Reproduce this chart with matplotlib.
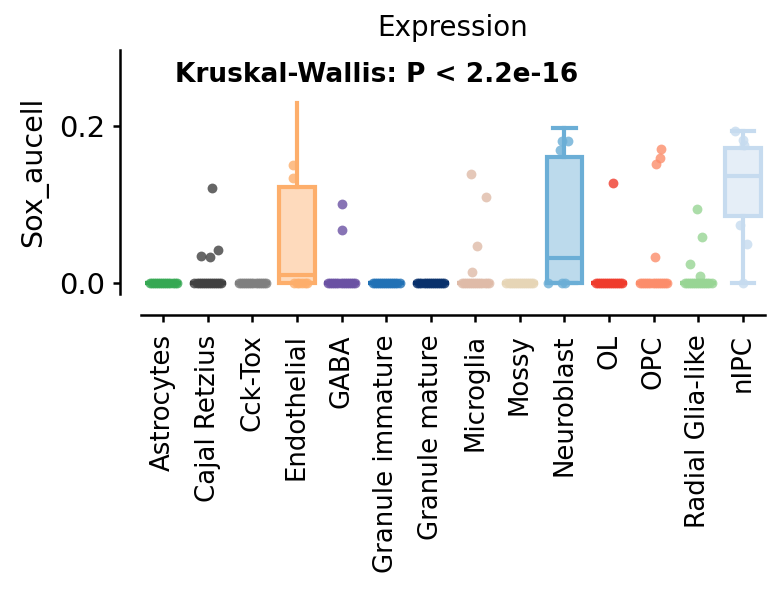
import numpy as np
import matplotlib.pyplot as plt
from matplotlib.colors import to_rgba

cell_types = ["Astrocytes", "Cajal Retzius", "Cck-Tox", "Endothelial", "GABA",
              "Granule immature", "Granule mature", "Microglia", "Mossy",
              "Neuroblast", "OL", "OPC", "Radial Glia-like", "nIPC"]

colors = ["#35a853", "#404040", "#7f7f7f", "#fdae6b", "#6a51a3",
          "#2171b5", "#08306b", "#dfbba8", "#e6d5b6",
          "#6baed6", "#ef3b2c", "#fc8d6b", "#98d594", "#c6dbef"]

# box stats
q1 = [0, 0, 0, 0.000, 0, 0, 0, 0, 0, 0.000, 0, 0, 0, 0.085]
med = [0, 0, 0, 0.011, 0, 0, 0, 0, 0, 0.032, 0, 0, 0, 0.136]
q3 = [0, 0, 0, 0.122, 0, 0, 0, 0, 0, 0.160, 0, 0, 0, 0.172]
whislo = [0, 0, 0, 0.000, 0, 0, 0, 0, 0, 0.000, 0, 0, 0, 0.000]
whishi = [0, 0, 0, 0.229, 0, 0, 0, 0, 0, 0.198, 0, 0, 0, 0.193]
cap_w = [0.5, 0.5, 0.5, 0.0, 0.5, 0.5, 0.5, 0.5, 0.5, 0.5, 0.5, 0.5, 0.5, 0.5]

# non-zero cells (value, jitter offset) per group
pt_values = [
    [],
    [0.121, 0.043, 0.035, 0.033],
    [],
    [0.150, 0.134],
    [0.101, 0.068],
    [],
    [],
    [0.139, 0.110, 0.047, 0.015],
    [],
    [0.181, 0.181, 0.170],
    [0.127],
    [0.171, 0.159, 0.152, 0.033],
    [0.095, 0.059, 0.025, 0.009],
    [0.193, 0.182, 0.176, 0.074, 0.050],
]
pt_jitter = [
    [],
    [0.10, 0.22, -0.15, 0.04],
    [],
    [-0.10, -0.10],
    [0.01, 0.01],
    [],
    [],
    [-0.10, 0.23, 0.04, -0.08],
    [],
    [-0.05, 0.09, -0.09],
    [0.09],
    [0.17, 0.15, 0.06, 0.04],
    [-0.03, 0.08, -0.19, 0.04],
    [-0.17, 0.01, 0.03, -0.06, 0.10],
]
# cells sitting at zero: count and jitter span per group
zero_n = [14, 14, 14, 6, 14, 14, 14, 14, 14, 3, 14, 14, 14, 1]
zero_span = [0.3, 0.3, 0.3, 0.15, 0.3, 0.3, 0.3, 0.3, 0.3, 0.3, 0.3, 0.3, 0.3, 0.0]

fig = plt.figure(figsize=(7.81, 5.91), dpi=100)
ax = fig.add_axes([141 / 781, 1 - 294 / 591, 624 / 781, 244 / 591])

pos = np.arange(len(cell_types))
stats = []
for i, name in enumerate(cell_types):
    stats.append({"label": name, "med": med[i], "q1": q1[i], "q3": q3[i],
                  "whislo": whislo[i], "whishi": whishi[i], "fliers": []})

bp = ax.bxp(stats, positions=pos, widths=0.8, capwidths=cap_w,
            patch_artist=True, showfliers=False)
for i, c in enumerate(colors):
    bp["boxes"][i].set_facecolor(to_rgba(c, 0.45))
    bp["boxes"][i].set_edgecolor(c)
    bp["boxes"][i].set_linewidth(3)
    bp["medians"][i].set_color(c)
    bp["medians"][i].set_linewidth(3)
    for k in (2 * i, 2 * i + 1):
        bp["whiskers"][k].set_color(c)
        bp["whiskers"][k].set_linewidth(3)
        bp["caps"][k].set_color(c)
        bp["caps"][k].set_linewidth(3)

for i, c in enumerate(colors):
    if zero_n[i] > 1:
        zx = np.linspace(-zero_span[i], zero_span[i], zero_n[i])
        if i == 3:
            zx = zx + 0.08
        if i == 9:
            zx = np.array([-0.36, -0.05, 0.02])
    else:
        zx = np.zeros(zero_n[i])
    ax.scatter(pos[i] + zx, np.zeros(len(zx)), s=50, color=c, alpha=0.8,
               linewidths=0, zorder=3)
    if pt_values[i]:
        ax.scatter(pos[i] + np.array(pt_jitter[i]), pt_values[i], s=50,
                   color=c, alpha=0.8, linewidths=0, zorder=3)

ax.set_xlim(-0.5, 13.5)
ax.set_ylim(-0.0135, 0.2965)
ax.set_yticks([0.0, 0.2])
ax.set_yticklabels(["0.0", "0.2"])
ax.tick_params(axis="y", labelsize=21, length=5, width=1.8, pad=6)
ax.tick_params(axis="x", labelsize=18.7, labelrotation=90, length=5,
               width=1.8, pad=9)

for side in ("top", "right"):
    ax.spines[side].set_visible(False)
for side in ("left", "bottom"):
    ax.spines[side].set_position(("outward", 15))
    ax.spines[side].set_linewidth(1.8)

ax.set_ylabel("Sox_aucell", fontsize=20.5, labelpad=8)
ax.set_title("Expression", fontsize=20, pad=10)
ax.text(0.055, 0.95, "Kruskal-Wallis: P < 2.2e-16", transform=ax.transAxes,
        fontsize=19, fontweight="bold", ha="left", va="top")

fig.savefig("out.png", dpi=100)
